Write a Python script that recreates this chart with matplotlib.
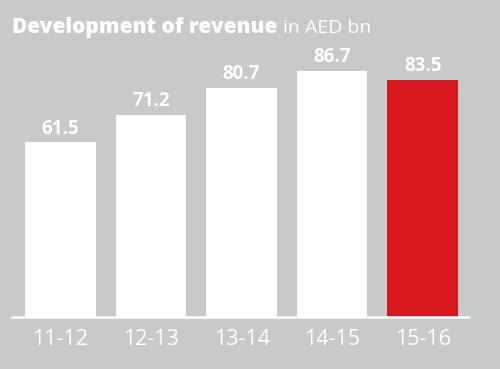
import matplotlib.pyplot as plt

# revenue development, AED bn
years = ["11-12", "12-13", "13-14", "14-15", "15-16"]
revenue = [61.5, 71.2, 80.7, 86.7, 83.5]
bar_colors = ["white", "white", "white", "white", "#d7191f"]

bg = "#c8c9cb"
plt.rcParams['font.family'] = ['Open Sans', 'DejaVu Sans']

fig = plt.figure(figsize=(5, 3.69), dpi=100)
fig.patch.set_facecolor(bg)
ax = fig.add_axes([0.024, 0.141, 0.912, 0.77])
ax.set_facecolor(bg)

x = range(len(years))
bars = ax.bar(x, revenue, width=0.78, color=bar_colors)
for xi, v in zip(x, revenue):
    ax.text(xi, v + 1.2, f"{v}", ha="center", va="bottom", color="white",
            fontsize=13.5, fontweight="bold")

ax.set_xlim(-0.535, 4.5)
ax.set_ylim(0, 100)
ax.set_xticks(list(x))
ax.set_xticklabels(years, color="white", fontsize=15.5)
ax.tick_params(axis="x", length=0, pad=9)
ax.set_yticks([])
for s in ["top", "right", "left"]:
    ax.spines[s].set_visible(False)
ax.spines["bottom"].set_color("white")
ax.spines["bottom"].set_linewidth(1.8)

# title: bold part followed by regular unit
t1 = fig.text(0.024, 0.925, "Development of revenue", color="white", fontsize=15,
              fontweight="heavy", va="center")
fig.canvas.draw()
bb = t1.get_window_extent()
x_end = fig.transFigure.inverted().transform((bb.x1, bb.y0))[0]
fig.text(x_end + 0.012, 0.925, "in AED bn", color="white", fontsize=14, va="center")

plt.savefig("out.png", dpi=100, facecolor=bg)
